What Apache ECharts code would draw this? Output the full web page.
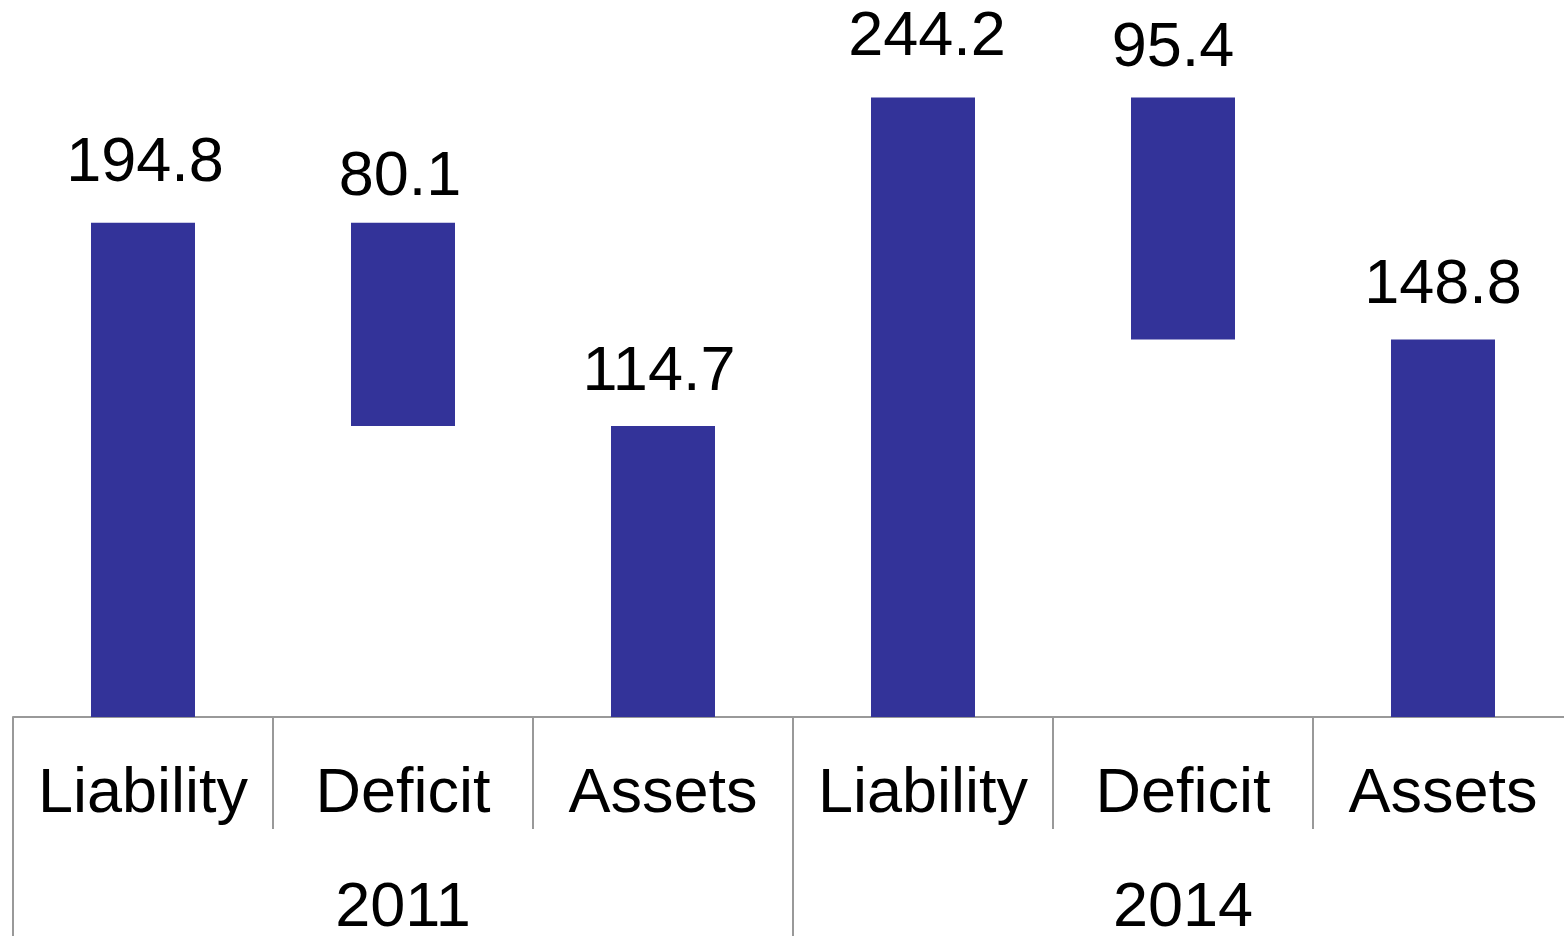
<!DOCTYPE html>
<html>
<head>
<meta charset="utf-8">
<script src="https://cdn.jsdelivr.net/npm/echarts@6/dist/echarts.min.js"></script>
<style>
  html, body { margin: 0; padding: 0; background: #fff; overflow: hidden; }
  #chart { width: 1564px; height: 936px; }
</style>
</head>
<body>
<div id="chart"></div>
<script>
const categories = ['Liability', 'Deficit', 'Assets', 'Liability', 'Deficit', 'Assets']
const years = ['2011', '2014']
// invisible base under each floating bar
const baseValues = [0, 114.7, 0, 0, 148.8, 0]
const barValues = [194.8, 80.1, 114.7, 244.2, 95.4, 148.8]

const chart = echarts.init(document.getElementById('chart'))
const font = 'Liberation Sans, Arial, sans-serif'

// label placement tweaks, per bar: [gap above bar, x shift]
const labelTweaks = [[28, 2], [14, -3], [22, -4], [28, 4], [17, -10], [22, 0]]

chart.setOption({
  animation: false,
  grid: {
    left: 13,
    width: 1560,
    top: 0,
    bottom: 219,
    containLabel: false,
    outerBoundsMode: 'none'
  },
  xAxis: [
    {
      type: 'category',
      data: categories,
      axisLine: { show: true, lineStyle: { color: '#999', width: 2 } },
      axisTick: { show: true, length: 112, lineStyle: { color: '#999', width: 2 } },
      axisLabel: { interval: 0, color: '#000', fontSize: 63, fontFamily: font, margin: 46 },
      splitLine: { show: false }
    },
    {
      type: 'category',
      data: years,
      position: 'bottom',
      axisLine: { show: false },
      axisTick: { show: true, length: 219, lineStyle: { color: '#999', width: 2 } },
      axisLabel: { interval: 0, color: '#000', fontSize: 63, fontFamily: font, margin: 160 },
      splitLine: { show: false }
    }
  ],
  yAxis: {
    type: 'value',
    min: 0,
    max: 282.6,
    show: false,
    splitLine: { show: false }
  },
  series: [
    {
      name: 'base',
      type: 'bar',
      stack: 'total',
      xAxisIndex: 0,
      barWidth: 104,
      itemStyle: { color: 'transparent' },
      silent: true,
      data: baseValues
    },
    {
      name: 'value',
      type: 'bar',
      stack: 'total',
      xAxisIndex: 0,
      barWidth: 104,
      itemStyle: { color: '#333399' },
      label: {
        show: true,
        position: 'top',
        distance: 28,
        color: '#000',
        fontSize: 63,
        fontFamily: font
      },
      data: barValues.map((v, i) => ({
        value: v,
        label: { distance: labelTweaks[i][0], offset: [labelTweaks[i][1], 0] }
      }))
    }
  ]
})
</script>
</body>
</html>
